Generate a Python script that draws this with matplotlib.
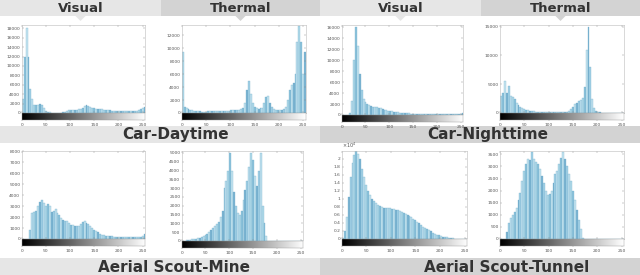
import numpy as np
import matplotlib
matplotlib.use('Agg')
import matplotlib.pyplot as plt
from matplotlib.patches import Rectangle, Polygon
from matplotlib.ticker import FuncFormatter

# histogram values, bins of 4 grey levels (0-3, 4-7, ..., 252-255)
car_day_visual = [3000, 12000, 18000, 12000, 5000, 3000, 1800, 1600, 1800, 2000, 1700, 1000,
                  500, 250, 150, 100, 100, 100, 100, 100, 100, 150, 200, 400,
                  600, 700, 700, 650, 700, 800, 900, 1100, 1500, 1600, 1400, 1200,
                  1100, 1000, 950, 900, 800, 750, 700, 700, 650, 600, 500, 500,
                  450, 450, 400, 400, 400, 380, 380, 350, 350, 400, 400, 450,
                  700, 900, 1100, 1300]
car_day_thermal = [9500, 1000, 700, 600, 500, 400, 350, 300, 250, 250, 200, 200,
                   200, 250, 250, 300, 300, 300, 350, 350, 300, 300, 300, 350,
                   350, 400, 400, 400, 450, 500, 600, 700, 1500, 3500, 4900, 3000,
                   1500, 900, 700, 650, 700, 800, 1500, 2400, 2700, 1600, 900, 600,
                   500, 500, 500, 500, 600, 900, 2000, 3500, 4300, 4600, 6000, 11000,
                   13400, 11000, 6000, 9500]
car_night_visual = [0, 0, 0, 0, 400, 2500, 10000, 16000, 12500, 7500, 4500, 3000,
                    2300, 2000, 1800, 1600, 1500, 1400, 1400, 1300, 1200, 1100, 1000, 900,
                    800, 700, 650, 600, 550, 500, 450, 400, 380, 350, 300, 280,
                    250, 230, 200, 200, 180, 170, 150, 150, 140, 140, 130, 130,
                    120, 120, 110, 110, 110, 100, 100, 100, 100, 100, 100, 100,
                    120, 150, 200, 300]
car_night_thermal = [2900, 3500, 5500, 3500, 4700, 3000, 2800, 2400, 1800, 1400, 1100, 900,
                     750, 600, 500, 400, 350, 300, 250, 220, 200, 180, 170, 160,
                     150, 150, 150, 150, 150, 150, 150, 160, 170, 180, 200, 400,
                     700, 1000, 1500, 1700, 2000, 2200, 2600, 4500, 11000, 15000, 8000, 2500,
                     800, 400, 200, 100, 0, 0, 0, 0, 0, 0, 0, 0,
                     0, 0, 0, 0]
mine_visual = [0, 0, 0, 0, 800, 2400, 2500, 2600, 3000, 3400, 3600, 3300,
               3000, 3200, 3000, 2500, 2600, 2700, 2400, 2200, 1900, 1700, 1650, 1600,
               1450, 1300, 1250, 1200, 1150, 1200, 1350, 1550, 1600, 1500, 1400, 1200,
               1000, 850, 700, 600, 450, 400, 350, 300, 280, 250, 230, 220,
               200, 200, 180, 180, 170, 170, 160, 160, 150, 150, 150, 160,
               170, 180, 250, 500]
mine_thermal = [0, 0, 30, 50, 70, 90, 110, 130, 160, 190, 230, 280,
                330, 420, 500, 620, 750, 850, 950, 1100, 1350, 1700, 3000, 3400,
                4000, 5000, 4000, 2800, 2000, 1600, 1500, 1700, 2300, 2900, 3400, 4200,
                5000, 4600, 3700, 3100, 4000, 5000, 2000, 1000, 300, 0, 0, 0,
                0, 0, 0, 0, 0, 0, 0, 0, 0, 0, 0, 0,
                0, 0, 0, 0]
tunnel_visual = [300, 2000, 5500, 10500, 15500, 19000, 21000, 21800, 21200, 19800, 17500, 15500,
                 13500, 12000, 11000, 10000, 9500, 8900, 8500, 8200, 8000, 7800, 7700, 7600,
                 7600, 7500, 7400, 7300, 7200, 7000, 6800, 6500, 6300, 6000, 5700, 5400,
                 5000, 4700, 4300, 3900, 3500, 3100, 2800, 2500, 2200, 1900, 1600, 1350,
                 1100, 900, 750, 600, 480, 380, 300, 220, 160, 110, 80, 50,
                 30, 20, 10, 0]
tunnel_thermal = [0, 0, 0, 300, 650, 850, 1000, 1100, 1300, 1600, 1900, 2400,
                  2800, 3100, 3300, 3250, 3600, 3300, 3200, 3100, 2900, 2600, 2300, 2000,
                  1800, 1850, 2000, 2300, 2700, 2800, 3100, 3350, 3600, 3300, 3000, 2700,
                  2400, 2000, 1600, 1200, 800, 400, 50, 0, 0, 0, 0, 0,
                  0, 0, 0, 0, 0, 0, 0, 0, 0, 0, 0, 0,
                  0, 0, 0, 0]

bin_centers = np.arange(64) * 4 + 2
x_ticks = [0, 50, 100, 150, 200, 250]

col_titles = ['Visual', 'Thermal', 'Visual', 'Thermal']
row_titles = ['Car-Daytime', 'Car-Nighttime', 'Aerial Scout-Mine', 'Aerial Scout-Tunnel']

W, H = 640, 275
fig = plt.figure(figsize=(W / 100, H / 100), dpi=100)

# background layer in pixel coordinates
bg = fig.add_axes([0, 0, 1, 1])
bg.set_xlim(0, W)
bg.set_ylim(H, 0)
bg.axis('off')

light, dark = '#e6e6e6', '#d3d3d3'
txt = '#333333'

# column headers with little pointers
for x0, x1, c, lab in [(0, 161, light, col_titles[0]), (161, 320, dark, col_titles[1]),
                       (320, 481, light, col_titles[2]), (481, 640, dark, col_titles[3])]:
    bg.add_patch(Rectangle((x0, 0), x1 - x0, 16, color=c, lw=0))
    cx = (x0 + x1) / 2
    bg.add_patch(Polygon([(cx - 5, 16), (cx + 5, 16), (cx, 21)], color=c, lw=0))
    bg.text(cx, 8.5, lab, ha='center', va='center', fontsize=9.5, fontweight='bold',
            color=txt, family='DejaVu Sans')

# row/section bands
for x0, x1, y0, y1, c, lab, tx in [(0, 320, 126, 143, light, row_titles[0], 176),
                                   (320, 640, 126, 143, dark, row_titles[1], 488),
                                   (0, 320, 258, 275, light, row_titles[2], 174),
                                   (320, 640, 258, 275, dark, row_titles[3], 507)]:
    bg.add_patch(Rectangle((x0, y0), x1 - x0, y1 - y0, color=c, lw=0))
    bg.text(tx, (y0 + y1) / 2 + 0.5, lab, ha='center', va='center', fontsize=11,
            fontweight='bold', color=txt, family='DejaVu Sans')

panels = [
    (car_day_visual, (21.7, 145, 25, 113), 18700, np.arange(0, 18001, 2000), 1),
    (car_day_thermal, (181.7, 305.7, 25, 113), 13600, np.arange(0, 12001, 2000), 1),
    (car_night_visual, (341.7, 463, 25, 115), 16400, np.arange(0, 16001, 2000), 1),
    (car_night_thermal, (500, 624, 25, 113), 15300, np.arange(0, 15001, 5000), 1),
    (mine_visual, (21.7, 145, 151, 239), 8030, np.arange(0, 8001, 1000), 1),
    (mine_thermal, (181.7, 303, 151, 241), 5110, np.arange(0, 5001, 500), 1),
    (tunnel_visual, (341.7, 467, 151, 239), 21900, np.arange(0, 20001, 2000), 1e4),
    (tunnel_thermal, (500, 624, 151, 239), 3640, np.arange(0, 3501, 500), 1),
]

bar_cols = ['#b2dbea', '#8ec4dc', '#c6e6f0', '#7cb4d2', '#a4d2e6', '#bfe1ee']
grad = np.linspace(0, 1, 256)[None, :]

for vals, (l, r, t, b), ymax, yt, scale in panels:
    ax = fig.add_axes([l / W, 1 - b / H, (r - l) / W, (b - t) / H])
    cols = [bar_cols[i % len(bar_cols)] for i in range(len(vals))]
    ax.bar(bin_centers, vals, width=4, color=cols, edgecolor='#6aa6c6', linewidth=0.2)
    ax.set_xlim(0, 255)
    ax.set_ylim(0, ymax)
    ax.set_yticks(yt)
    if scale != 1:
        ax.yaxis.set_major_formatter(FuncFormatter(lambda v, p: '%g' % (v / 1e4)))
        ax.text(0, 1.01, r'$\times10^4$', transform=ax.transAxes, fontsize=3.5,
                color='#555555', ha='left', va='bottom')
    ax.set_xticks(x_ticks)
    ax.set_xticklabels([])
    ax.tick_params(direction='in', length=1.5, width=0.3, colors='#888888',
                   labelsize=3.2, labelcolor='#555555', pad=1, right=True, top=True)
    for s in ax.spines.values():
        s.set_color('#bbbbbb')
        s.set_linewidth(0.4)

    # grey-level bar under each histogram
    cb = fig.add_axes([l / W, 1 - (b + 7) / H, (r - l) / W, 7 / H])
    cb.imshow(grad, cmap='gray', aspect='auto', extent=[0, 255, 0, 1])
    cb.set_xlim(0, 255)
    cb.set_yticks([])
    cb.set_xticks(x_ticks)
    cb.tick_params(direction='out', length=1, width=0.3, colors='#888888',
                   labelsize=3.2, labelcolor='#555555', pad=1)
    for s in cb.spines.values():
        s.set_color('#999999')
        s.set_linewidth(0.3)

fig.savefig('out.png', dpi=100)
